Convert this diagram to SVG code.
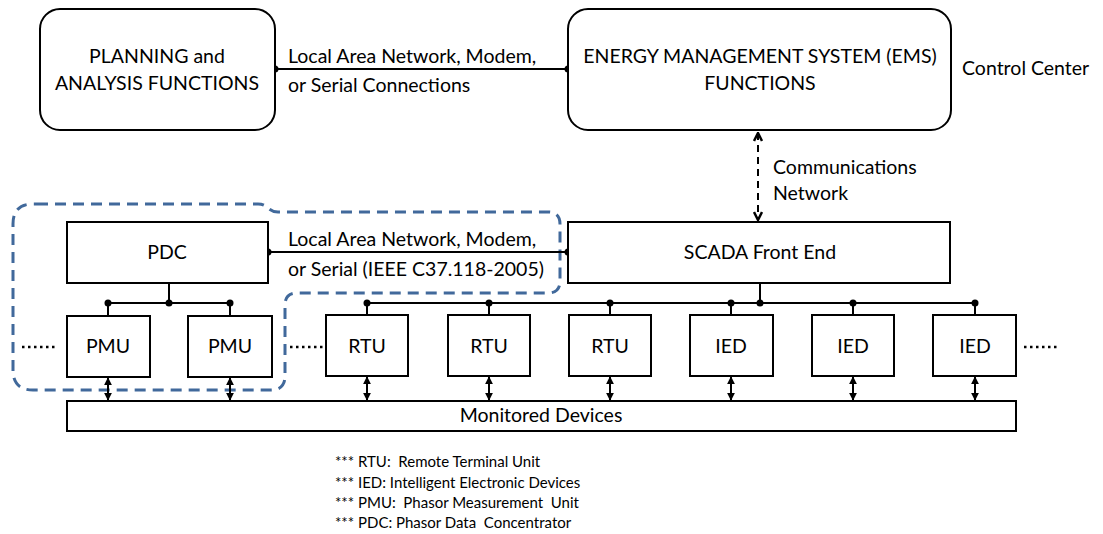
<svg xmlns="http://www.w3.org/2000/svg" width="1103" height="534" viewBox="0 0 1103 534">
<defs>
<style>
.box{fill:#fff;stroke:#000;stroke-width:2}
.t{font-family:Lato,"Liberation Sans",sans-serif;font-size:19.5px;fill:#000}
.c{text-anchor:middle}
.lg{font-family:Lato,"Liberation Sans",sans-serif;font-size:15px;fill:#000;white-space:pre}
.ln{fill:none;stroke:#000;stroke-width:2}
.dot{fill:#000}
.dd{fill:none;stroke:#000;stroke-width:2.5;stroke-dasharray:2.5 3.5}
</style>
<marker id="ah" viewBox="0 0 10 10" refX="9" refY="5" markerWidth="4" markerHeight="4" orient="auto-start-reverse" markerUnits="strokeWidth">
<path d="M0,0 L10,5 L0,10 z" fill="#000"/>
</marker>
<marker id="ah2" viewBox="0 0 10 10" refX="9" refY="5" markerWidth="5" markerHeight="5" orient="auto-start-reverse" markerUnits="strokeWidth">
<path d="M1,1 L9,5 L1,9" fill="none" stroke="#000" stroke-width="2.5"/>
</marker>
</defs>
<rect width="1103" height="534" fill="#fff"/>

<g id="pdc-group-outline">
<path d="M37,204 L258,204 C268,204 268,212 278,212 L548,212 Q560,212 560,224 L560,281 Q560,293 548,293 L297,293 Q285,293 285,305 L285,376 Q285,390 271,390 L33,390 Q13,390 13,370 L13,224 Q13,204 33,204 Z" fill="none" stroke="#41699b" stroke-width="3" stroke-dasharray="11 7"/>
</g>

<g id="connectors">
<line class="ln" x1="275" y1="69" x2="568" y2="69"/>
<circle class="dot" cx="275" cy="69" r="3.5"/>
<circle class="dot" cx="568" cy="69" r="3.5"/>
<line x1="758" y1="133" x2="758" y2="220" stroke="#000" stroke-width="2" stroke-dasharray="7 5" marker-start="url(#ah2)" marker-end="url(#ah2)"/>
<line class="ln" x1="268" y1="252" x2="568" y2="252"/>
<circle class="dot" cx="268" cy="252" r="3.5"/>
<circle class="dot" cx="568" cy="252" r="3.5"/>
<!-- PDC bus -->
<line class="ln" x1="169" y1="283" x2="169" y2="303"/>
<line class="ln" x1="108" y1="303" x2="230" y2="303"/>
<line class="ln" x1="108" y1="303" x2="108" y2="316"/>
<line class="ln" x1="230" y1="303" x2="230" y2="316"/>
<circle class="dot" cx="108" cy="303" r="3.5"/>
<circle class="dot" cx="169" cy="303" r="3.5"/>
<circle class="dot" cx="230" cy="303" r="3.5"/>
<!-- SCADA bus -->
<line class="ln" x1="760" y1="283" x2="760" y2="303"/>
<line class="ln" x1="367" y1="303" x2="975" y2="303"/>
<line class="ln" x1="367" y1="303" x2="367" y2="315"/>
<line class="ln" x1="489" y1="303" x2="489" y2="315"/>
<line class="ln" x1="610" y1="303" x2="610" y2="315"/>
<line class="ln" x1="731" y1="303" x2="731" y2="315"/>
<line class="ln" x1="853" y1="303" x2="853" y2="315"/>
<line class="ln" x1="975" y1="303" x2="975" y2="315"/>
<circle class="dot" cx="367" cy="303" r="3.5"/>
<circle class="dot" cx="489" cy="303" r="3.5"/>
<circle class="dot" cx="610" cy="303" r="3.5"/>
<circle class="dot" cx="731" cy="303" r="3.5"/>
<circle class="dot" cx="760" cy="303" r="3.5"/>
<circle class="dot" cx="853" cy="303" r="3.5"/>
<circle class="dot" cx="975" cy="303" r="3.5"/>
<!-- double arrows to monitored devices -->
<g stroke="#000" stroke-width="2" marker-start="url(#ah)" marker-end="url(#ah)">
<line x1="108" y1="378" x2="108" y2="400"/>
<line x1="230" y1="378" x2="230" y2="400"/>
<line x1="367" y1="377" x2="367" y2="400"/>
<line x1="489" y1="377" x2="489" y2="400"/>
<line x1="610" y1="377" x2="610" y2="400"/>
<line x1="731" y1="377" x2="731" y2="400"/>
<line x1="853" y1="377" x2="853" y2="400"/>
<line x1="975" y1="377" x2="975" y2="400"/>
</g>
<!-- dotted continuation -->
<line class="dd" x1="22" y1="347" x2="58" y2="347"/>
<line class="dd" x1="290" y1="347" x2="324" y2="347"/>
<line class="dd" x1="1024" y1="347" x2="1060" y2="347"/>
</g>

<g id="labels">
<text class="t" x="288" y="63">Local Area Network, Modem,</text>
<text class="t" x="288" y="92">or Serial Connections</text>
<text class="t" x="962" y="75">Control Center</text>
<text class="t" x="773" y="174">Communications</text>
<text class="t" x="773" y="200">Network</text>
<text class="t" x="288" y="246">Local Area Network, Modem,</text>
<text class="t" x="288" y="276">or Serial (IEEE C37.118-2005)</text>
</g>

<g id="planning">
<rect class="box" x="40" y="9" width="235" height="121" rx="20"/>
<text class="t c" x="157" y="63">PLANNING and</text>
<text class="t c" x="157" y="90">ANALYSIS FUNCTIONS</text>
</g>
<g id="ems">
<rect class="box" x="568" y="9" width="383" height="121" rx="20"/>
<text class="t c" x="760" y="63">ENERGY MANAGEMENT SYSTEM (EMS)</text>
<text class="t c" x="760" y="90">FUNCTIONS</text>
</g>
<g id="pdc">
<rect class="box" x="67" y="222" width="201" height="61"/>
<text class="t c" x="167" y="259">PDC</text>
</g>
<g id="scada">
<rect class="box" x="568" y="222" width="382" height="61"/>
<text class="t c" x="760" y="259">SCADA Front End</text>
</g>
<g id="pmu1"><rect class="box" x="67" y="316" width="83" height="61"/><text class="t c" x="108" y="353">PMU</text></g>
<g id="pmu2"><rect class="box" x="188" y="316" width="84" height="61"/><text class="t c" x="230" y="353">PMU</text></g>
<g id="rtu1"><rect class="box" x="326" y="315" width="82" height="61"/><text class="t c" x="367" y="353">RTU</text></g>
<g id="rtu2"><rect class="box" x="448" y="315" width="82" height="61"/><text class="t c" x="489" y="353">RTU</text></g>
<g id="rtu3"><rect class="box" x="569" y="315" width="82" height="61"/><text class="t c" x="610" y="353">RTU</text></g>
<g id="ied1"><rect class="box" x="690" y="315" width="83" height="61"/><text class="t c" x="731" y="353">IED</text></g>
<g id="ied2"><rect class="box" x="812" y="315" width="82" height="61"/><text class="t c" x="853" y="353">IED</text></g>
<g id="ied3"><rect class="box" x="933" y="315" width="83" height="61"/><text class="t c" x="975" y="353">IED</text></g>
<g id="monitored">
<rect class="box" x="67" y="401" width="949" height="30"/>
<text class="t c" x="541" y="422">Monitored Devices</text>
</g>

<g id="legend">
<text class="lg" x="335" y="467">*** RTU:  Remote Terminal Unit</text>
<text class="lg" x="335" y="488">*** IED: Intelligent Electronic Devices</text>
<text class="lg" x="335" y="508">*** PMU:  Phasor Measurement  Unit</text>
<text class="lg" x="335" y="528">*** PDC: Phasor Data  Concentrator</text>
</g>
</svg>
